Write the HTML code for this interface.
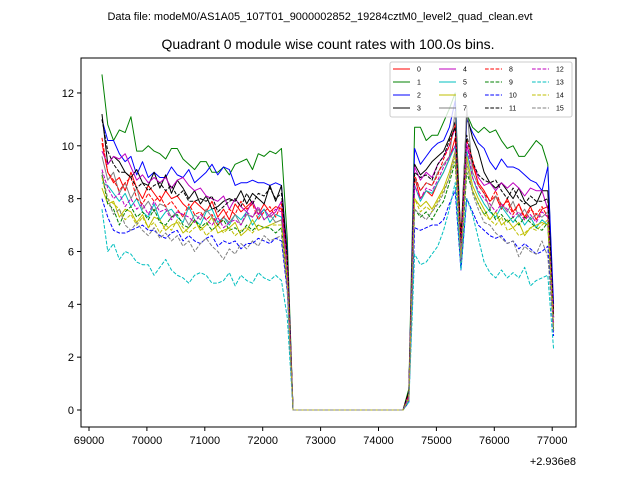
<!DOCTYPE html>
<html><head><meta charset="utf-8"><style>
body{margin:0;background:#fff;}
svg{display:block;font-family:"Liberation Sans","DejaVu Sans",sans-serif;}
</style></head><body>
<svg id="chart" width="640" height="480" viewBox="0 0 640 480" xmlns="http://www.w3.org/2000/svg">
<rect width="640" height="480" fill="#fff"/>
<text x="320" y="20" font-size="11" text-anchor="middle">Data file: modeM0/AS1A05_107T01_9000002852_19284cztM0_level2_quad_clean.evt</text>
<text x="328" y="49" font-size="14" text-anchor="middle">Quadrant 0 module wise count rates with 100.0s bins.</text>
<g id="plot"></g>
<g id="axes"></g>
<g id="legend"></g>
</svg>
<script>
const binStart = 69224, binSize = 100;
const gap = [0,0,0,0,0,0,0,0,0,0,0,0,0,0,0,0,0,0,0,0];
const xTicks = [69000,70000,71000,72000,73000,74000,75000,76000,77000];
const xTickLabels = ["69000","70000","71000","72000","73000","74000","75000","76000","77000"];
const yTicks = [0,2,4,6,8,10,12];
const seriesNames = ["0","1","2","3","4","5","6","7","8","9","10","11","12","13","14","15"];
const a0=[10.1,9.0,8.6,8.8,8.3,9.0,8.4,8.0,8.5,8.2,7.9,8.3,8.0,8.1,7.8,7.6,7.9,7.7,7.5,7.9,7.3,7.6,7.2,7.8,7.5,7.7,7.9,7.4,7.8,7.5,7.7,7.6];
const b0=[8.8,8.0,8.3,8.1,8.6,9.0,9.5,10.3,6.5,10.0,9.3,8.6,8.3,7.9,8.1,7.6,8.0,7.5,7.8,7.3,7.7,7.2,7.6,7.7,3.8];
const a1=[12.7,10.8,10.2,10.6,10.5,11.1,9.8,9.8,10.0,9.8,9.7,9.5,9.9,9.9,9.5,9.3,9.1,9.4,9.4,9.0,9.0,9.2,8.9,9.3,9.4,9.5,9.1,9.7,9.6,9.8,9.7,9.9];
const b1=[10.7,10.7,10.2,10.4,10.4,10.9,11.4,12.0,6.2,11.2,10.7,10.5,10.7,10.5,10.6,10.2,9.9,10.0,9.6,9.6,9.9,10.2,10.0,9.3,3.5];
const a2=[11.0,10.2,10.2,9.7,9.4,9.6,8.9,9.4,8.8,9.0,8.8,8.8,9.2,8.9,8.8,9.1,8.6,8.8,9.0,9.3,8.9,9.2,9.1,8.5,8.6,8.6,8.7,8.6,8.6,8.5,8.6,8.5];
const b2=[9.9,9.3,9.6,9.9,10.1,10.2,10.7,11.7,5.5,11.0,10.5,10.1,9.9,9.4,9.1,9.5,9.2,9.2,9.1,8.9,8.7,8.6,8.3,9.2,4.0];
const a3=[11.2,9.3,9.6,9.4,9.0,8.8,9.1,8.6,8.5,9.0,8.4,8.9,8.2,8.7,8.4,8.0,8.3,7.8,8.1,7.6,7.7,7.9,8.0,7.9,8.3,7.8,8.2,8.0,7.8,8.5,7.9,8.5];
const b3=[9.3,8.9,9.1,9.4,9.6,9.8,10.3,10.9,6.5,11.2,10.3,9.8,9.0,8.6,8.4,8.6,8.3,8.0,8.4,7.9,7.7,7.8,8.3,8.3,3.5];
const a4=[9.8,9.3,9.6,9.5,9.7,9.2,8.7,8.9,8.6,8.8,8.6,8.8,8.4,8.7,8.8,8.5,8.3,8.4,8.1,8.0,7.9,8.1,7.6,8.0,7.7,7.5,7.9,7.4,7.6,7.3,7.5,7.9];
const b4=[9.2,8.7,9.0,8.8,9.3,9.6,10.0,10.7,6.3,10.0,9.4,8.8,8.5,8.6,8.3,8.6,8.4,8.6,8.4,8.1,8.4,8.3,8.3,7.6,3.5];
const a5=[8.6,8.5,8.2,7.9,8.2,7.7,8.0,7.5,7.3,7.8,7.2,7.5,7.6,7.3,7.1,7.7,7.2,7.0,7.5,7.6,7.1,7.3,7.0,7.4,7.2,7.5,7.0,7.3,7.6,7.1,7.4,7.3];
const b5=[8.5,7.9,8.3,8.2,8.6,9.0,9.5,10.0,5.6,9.8,8.8,8.2,7.8,7.5,7.3,7.7,7.4,7.1,7.4,7.0,7.3,6.9,7.2,7.0,3.2];
const a6=[8.4,7.8,7.9,7.3,7.6,7.5,7.1,7.4,6.9,7.3,7.2,6.8,7.0,7.1,6.7,6.9,7.2,6.8,7.0,7.3,6.7,6.8,6.9,7.1,6.6,6.8,7.2,6.8,6.9,7.0,7.1,7.2];
const b6=[8.0,7.7,7.9,7.6,8.0,8.4,9.0,9.8,5.8,9.6,8.5,8.0,7.6,7.2,7.5,7.0,7.2,6.9,7.1,6.6,6.9,7.0,7.1,7.0,3.0];
const a7=[9.6,8.7,9.0,8.2,8.6,8.0,8.4,7.6,7.9,7.5,7.8,7.7,7.3,7.5,7.4,7.0,7.4,7.2,7.6,7.3,7.0,7.3,7.1,7.4,7.0,7.4,7.3,7.6,7.2,7.4,7.1,7.2];
const b7=[8.8,8.3,8.6,8.5,9.0,9.3,9.6,11.3,6.0,11.5,9.0,8.5,8.2,7.6,8.1,7.8,7.5,7.9,7.3,7.6,7.2,7.4,7.3,7.5,3.5];
const a8=[10.3,9.0,8.7,8.3,8.6,8.8,8.0,7.8,8.2,7.9,8.1,7.7,7.9,7.6,7.3,7.8,7.4,7.5,7.2,7.4,7.0,7.3,7.6,7.4,7.9,7.6,7.8,7.2,7.5,7.7,7.3,7.8];
const b8=[8.9,8.3,8.6,8.5,8.9,9.5,10.0,10.8,6.4,10.2,9.5,8.5,8.2,7.9,8.3,7.7,7.9,7.4,7.8,7.2,7.6,7.4,7.7,7.3,3.6];
const a9=[8.9,7.8,7.6,7.0,7.5,7.7,7.3,7.5,7.2,7.6,7.1,7.0,7.3,7.4,7.0,6.9,7.2,6.9,7.1,6.8,7.0,7.2,6.8,6.9,6.7,7.0,6.8,7.0,6.9,6.9,6.7,6.9];
const b9=[7.6,7.3,7.5,7.2,7.6,7.9,8.6,9.4,5.5,9.0,8.3,7.8,7.4,7.6,7.2,7.4,7.1,7.3,7.0,7.3,7.1,6.9,6.8,7.1,3.0];
const a10=[8.0,7.3,6.8,6.7,6.7,6.8,6.9,7.0,6.8,6.8,6.6,6.5,6.7,6.8,6.4,6.6,6.4,6.3,6.5,6.6,6.2,6.4,6.3,6.4,6.1,6.3,6.3,6.5,6.4,6.3,6.5,6.4];
const b10=[6.9,6.8,6.9,7.0,7.0,7.2,7.8,8.3,5.3,8.0,7.5,7.0,6.8,6.6,6.5,6.6,6.3,6.4,6.1,6.3,6.1,5.9,6.0,6.2,2.8];
const a11=[11.0,9.8,9.3,9.0,9.0,8.8,8.4,8.6,8.3,8.5,8.6,8.3,8.5,8.1,8.3,7.9,7.9,8.0,7.9,8.1,7.5,7.7,7.9,8.0,7.7,8.2,7.8,8.2,8.1,8.4,8.0,8.2];
const b11=[9.0,8.8,8.9,8.7,9.3,9.6,10.2,10.7,6.3,10.4,9.4,8.9,8.7,8.6,8.7,8.3,8.0,8.4,8.0,7.8,8.1,7.9,7.9,8.0,3.6];
const a12=[9.1,8.4,8.0,8.2,7.7,8.0,7.6,7.8,7.4,7.9,7.5,7.6,7.2,7.5,7.4,7.3,7.1,7.4,7.2,7.0,7.3,6.9,7.1,7.2,7.0,7.5,7.3,7.7,7.2,7.4,7.6,7.5];
const b12=[8.5,8.0,8.4,8.3,8.7,9.2,9.6,10.0,5.9,10.1,8.8,8.3,8.0,7.8,7.5,7.8,7.6,7.3,7.5,7.2,7.4,7.1,7.5,7.3,3.3];
const a13=[7.6,6.0,6.3,5.7,6.0,5.9,5.6,5.5,5.5,5.1,5.4,5.7,5.3,5.1,5.0,4.8,5.1,5.2,5.1,4.8,4.8,4.9,5.2,4.7,5.1,4.9,4.8,5.2,5.0,4.9,5.1,4.9];
const b13=[5.9,5.5,5.6,5.9,6.2,6.8,7.6,8.6,5.3,8.0,7.4,6.5,5.6,5.2,5.0,5.3,5.0,5.2,5.0,5.4,4.7,4.9,5.0,5.1,2.3];
const a14=[8.8,8.0,7.8,7.6,7.2,7.4,7.0,7.3,6.9,7.1,6.7,7.0,6.8,7.2,6.9,6.7,6.9,7.0,6.6,6.8,7.0,6.7,6.9,6.6,6.8,6.9,6.7,7.0,6.9,7.0,7.0,7.0];
const b14=[8.0,7.5,7.7,7.5,7.9,8.3,8.8,9.6,5.7,9.3,8.3,7.8,7.4,7.2,7.0,7.3,6.8,6.9,6.6,6.7,6.9,6.8,7.0,7.2,3.1];
const a15=[9.0,8.0,7.4,7.6,7.0,6.8,7.1,6.8,6.6,6.9,6.5,6.7,6.4,6.6,6.2,6.4,6.0,6.3,6.5,6.2,6.0,5.7,6.1,5.9,6.3,6.1,6.4,6.2,6.6,6.4,6.5,6.6];
const b15=[7.6,7.4,7.2,7.5,7.8,8.2,8.8,9.8,5.6,9.4,8.2,7.6,7.1,7.0,6.7,6.5,6.3,6.4,5.8,6.2,6.0,5.9,6.4,5.8,3.0];
const dropVals=[5.5,6.5,6.0,5.8,5.5,5.2,5.0,5.5,5.8,4.8,4.5,5.8,5.2,3.5,4.8,4.6];
const riseVals=[0.7,0.8,0.6,0.7,0.6,0.5,0.5,0.6,0.6,0.4,0.3,0.7,0.5,0.3,0.4,0.4];
const firstParts=[a0,a1,a2,a3,a4,a5,a6,a7,a8,a9,a10,a11,a12,a13,a14,a15];
const secondParts=[b0,b1,b2,b3,b4,b5,b6,b7,b8,b9,b10,b11,b12,b13,b14,b15];

const NS="http://www.w3.org/2000/svg";
const L=81,R=576,T=58,B=427;
function xs(t){return 89+(t-69000)*0.0579;}
function ys(v){return 410-v*26.42;}
const colors=["#ff0000","#008000","#0000ff","#000000","#bf00bf","#00bfbf","#bfbf00","#808080"];
function mk(tag,attrs,parent){const e=document.createElementNS(NS,tag);for(const k in attrs)e.setAttribute(k,attrs[k]);parent.appendChild(e);return e;}
const plot=document.getElementById('plot');
const axes=document.getElementById('axes');
const legend=document.getElementById('legend');
for(let s=0;s<16;s++){
  const vals=firstParts[s].concat([dropVals[s]],gap,[riseVals[s]],secondParts[s]);
  const pts=vals.map((v,i)=>xs(binStart+binSize*i).toFixed(2)+","+ys(v).toFixed(2)).join(" ");
  const pl=mk('polyline',{points:pts,fill:"none",stroke:colors[s%8],"stroke-width":1,"stroke-linejoin":"round"},plot);
  if(s>=8)pl.setAttribute('stroke-dasharray','3.7,1.6');
  
  
}
const frame=mk('rect',{x:L,y:T,width:R-L,height:B-T,fill:"none",stroke:"#000","stroke-width":1},axes);


xTicks.forEach((t,i)=>{
  const x=xs(t);
  const tk=mk('line',{x1:x,y1:B,x2:x,y2:B+4,stroke:"#000"},axes);
  
  
  const tx=mk('text',{x:x,y:B+17,"font-size":11,"text-anchor":"middle"},axes);
  tx.textContent=xTickLabels[i];
  
  
});
yTicks.forEach(v=>{
  const y=ys(v);
  const tk=mk('line',{x1:L-4,y1:y,x2:L,y2:y,stroke:"#000"},axes);
  
  
  const tx=mk('text',{x:L-7,y:y+4,"font-size":11,"text-anchor":"end"},axes);
  tx.textContent=String(v);
  
  
});
const off=mk('text',{x:576,y:465,"font-size":11,"text-anchor":"end"},axes);
off.textContent="+2.936e8";


const lb=mk('rect',{x:390,y:62,width:182,height:55,rx:2,fill:"#fff","fill-opacity":0.8,stroke:"#ccc","stroke-width":1},legend);


const colX=[393,439,485,532];
for(let s=0;s<16;s++){
  const c=Math.floor(s/4),r=s%4;
  const y=69+r*13;
  const ln=mk('line',{x1:colX[c],y1:y,x2:colX[c]+17,y2:y,stroke:colors[s%8],"stroke-width":1},legend);
  if(s>=8)ln.setAttribute('stroke-dasharray','3.7,1.6');
  
  
  const tx=mk('text',{x:colX[c]+24,y:y+2.5,"font-size":7},legend);
  tx.textContent=seriesNames[s];
  
  
}
</script>
</body></html>
